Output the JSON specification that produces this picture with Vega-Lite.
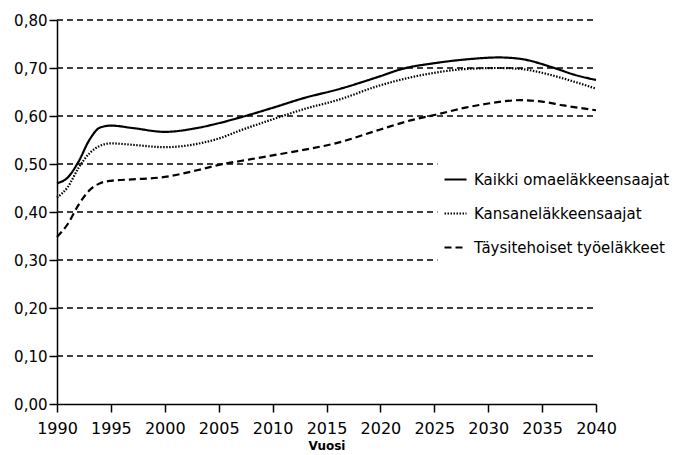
{
  "$schema": "https://vega.github.io/schema/vega-lite/v6.json",
  "width": 539,
  "height": 384,
  "autosize": "none",
  "padding": {"left": 57, "top": 20, "right": 85, "bottom": 51},
  "background": "white",
  "config": {"view": {"stroke": null}, "font": "DejaVu Sans"},
  "datasets": {
    "grid": [
      {"value": 0.1, "year": 1990, "year2": 2040},
      {"value": 0.2, "year": 1990, "year2": 2040},
      {"value": 0.3, "year": 1990, "year2": 2025.3},
      {"value": 0.4, "year": 1990, "year2": 2025.3},
      {"value": 0.5, "year": 1990, "year2": 2025.3},
      {"value": 0.6, "year": 1990, "year2": 2040},
      {"value": 0.7, "year": 1990, "year2": 2040},
      {"value": 0.8, "year": 1990, "year2": 2040}
    ],
    "series": [
      {"series": "Kaikki omaeläkkeensaajat", "year": 1990, "value": 0.460},
      {"series": "Kaikki omaeläkkeensaajat", "year": 1991, "value": 0.472},
      {"series": "Kaikki omaeläkkeensaajat", "year": 1992, "value": 0.505},
      {"series": "Kaikki omaeläkkeensaajat", "year": 1993, "value": 0.550},
      {"series": "Kaikki omaeläkkeensaajat", "year": 1994, "value": 0.576},
      {"series": "Kaikki omaeläkkeensaajat", "year": 1995, "value": 0.580},
      {"series": "Kaikki omaeläkkeensaajat", "year": 1997, "value": 0.575},
      {"series": "Kaikki omaeläkkeensaajat", "year": 2000, "value": 0.567},
      {"series": "Kaikki omaeläkkeensaajat", "year": 2003, "value": 0.575},
      {"series": "Kaikki omaeläkkeensaajat", "year": 2005, "value": 0.585},
      {"series": "Kaikki omaeläkkeensaajat", "year": 2007, "value": 0.597},
      {"series": "Kaikki omaeläkkeensaajat", "year": 2010, "value": 0.617},
      {"series": "Kaikki omaeläkkeensaajat", "year": 2013, "value": 0.638},
      {"series": "Kaikki omaeläkkeensaajat", "year": 2016, "value": 0.655},
      {"series": "Kaikki omaeläkkeensaajat", "year": 2020, "value": 0.683},
      {"series": "Kaikki omaeläkkeensaajat", "year": 2022, "value": 0.698},
      {"series": "Kaikki omaeläkkeensaajat", "year": 2025, "value": 0.710},
      {"series": "Kaikki omaeläkkeensaajat", "year": 2028, "value": 0.718},
      {"series": "Kaikki omaeläkkeensaajat", "year": 2031, "value": 0.722},
      {"series": "Kaikki omaeläkkeensaajat", "year": 2033, "value": 0.719},
      {"series": "Kaikki omaeläkkeensaajat", "year": 2036, "value": 0.701},
      {"series": "Kaikki omaeläkkeensaajat", "year": 2038, "value": 0.686},
      {"series": "Kaikki omaeläkkeensaajat", "year": 2040, "value": 0.675},
      {"series": "Kansaneläkkeensaajat", "year": 1990, "value": 0.430},
      {"series": "Kansaneläkkeensaajat", "year": 1991, "value": 0.452},
      {"series": "Kansaneläkkeensaajat", "year": 1992, "value": 0.492},
      {"series": "Kansaneläkkeensaajat", "year": 1993, "value": 0.522},
      {"series": "Kansaneläkkeensaajat", "year": 1994, "value": 0.538},
      {"series": "Kansaneläkkeensaajat", "year": 1995, "value": 0.543},
      {"series": "Kansaneläkkeensaajat", "year": 1997, "value": 0.540},
      {"series": "Kansaneläkkeensaajat", "year": 2000, "value": 0.535},
      {"series": "Kansaneläkkeensaajat", "year": 2003, "value": 0.542},
      {"series": "Kansaneläkkeensaajat", "year": 2005, "value": 0.553},
      {"series": "Kansaneläkkeensaajat", "year": 2007, "value": 0.570},
      {"series": "Kansaneläkkeensaajat", "year": 2010, "value": 0.593},
      {"series": "Kansaneläkkeensaajat", "year": 2013, "value": 0.615},
      {"series": "Kansaneläkkeensaajat", "year": 2016, "value": 0.633},
      {"series": "Kansaneläkkeensaajat", "year": 2020, "value": 0.664},
      {"series": "Kansaneläkkeensaajat", "year": 2025, "value": 0.690},
      {"series": "Kansaneläkkeensaajat", "year": 2028, "value": 0.698},
      {"series": "Kansaneläkkeensaajat", "year": 2031, "value": 0.700},
      {"series": "Kansaneläkkeensaajat", "year": 2033, "value": 0.698},
      {"series": "Kansaneläkkeensaajat", "year": 2035, "value": 0.690},
      {"series": "Kansaneläkkeensaajat", "year": 2037, "value": 0.678},
      {"series": "Kansaneläkkeensaajat", "year": 2040, "value": 0.657},
      {"series": "Täysitehoiset työeläkkeet", "year": 1990, "value": 0.348},
      {"series": "Täysitehoiset työeläkkeet", "year": 1991, "value": 0.375},
      {"series": "Täysitehoiset työeläkkeet", "year": 1992, "value": 0.415},
      {"series": "Täysitehoiset työeläkkeet", "year": 1993, "value": 0.445},
      {"series": "Täysitehoiset työeläkkeet", "year": 1994, "value": 0.460},
      {"series": "Täysitehoiset työeläkkeet", "year": 1995, "value": 0.465},
      {"series": "Täysitehoiset työeläkkeet", "year": 1997, "value": 0.468},
      {"series": "Täysitehoiset työeläkkeet", "year": 2000, "value": 0.473},
      {"series": "Täysitehoiset työeläkkeet", "year": 2003, "value": 0.487},
      {"series": "Täysitehoiset työeläkkeet", "year": 2005, "value": 0.498},
      {"series": "Täysitehoiset työeläkkeet", "year": 2008, "value": 0.510},
      {"series": "Täysitehoiset työeläkkeet", "year": 2010, "value": 0.518},
      {"series": "Täysitehoiset työeläkkeet", "year": 2013, "value": 0.530},
      {"series": "Täysitehoiset työeläkkeet", "year": 2016, "value": 0.544},
      {"series": "Täysitehoiset työeläkkeet", "year": 2020, "value": 0.572},
      {"series": "Täysitehoiset työeläkkeet", "year": 2023, "value": 0.592},
      {"series": "Täysitehoiset työeläkkeet", "year": 2025, "value": 0.602},
      {"series": "Täysitehoiset työeläkkeet", "year": 2028, "value": 0.618},
      {"series": "Täysitehoiset työeläkkeet", "year": 2030, "value": 0.626},
      {"series": "Täysitehoiset työeläkkeet", "year": 2033, "value": 0.633},
      {"series": "Täysitehoiset työeläkkeet", "year": 2035, "value": 0.630},
      {"series": "Täysitehoiset työeläkkeet", "year": 2037, "value": 0.622},
      {"series": "Täysitehoiset työeläkkeet", "year": 2040, "value": 0.612}
    ]
  },
  "encoding": {
    "x": {
      "field": "year",
      "type": "quantitative",
      "scale": {"domain": [1990, 2040], "nice": false, "zero": false},
      "axis": {
        "values": [1990, 1995, 2000, 2005, 2010, 2015, 2020, 2025, 2030, 2035, 2040],
        "format": "d",
        "grid": false,
        "labelOverlap": false,
        "labelFlush": false,
        "domainColor": "black",
        "domainWidth": 1.5,
        "tickColor": "black",
        "tickWidth": 1.5,
        "tickSize": 8,
        "labelColor": "black",
        "labelFontSize": 16,
        "labelPadding": 8,
        "title": "Vuosi",
        "titleFontSize": 12,
        "titleFontWeight": "bold",
        "titleColor": "black",
        "titlePadding": 4
      }
    },
    "y": {
      "field": "value",
      "type": "quantitative",
      "scale": {"domain": [0, 0.8], "nice": false},
      "axis": {
        "values": [0, 0.1, 0.2, 0.3, 0.4, 0.5, 0.6, 0.7, 0.8],
        "labelExpr": "replace(format(datum.value, '.2f'), '.', ',')",
        "grid": false,
        "labelOverlap": false,
        "labelFlush": false,
        "domainColor": "black",
        "domainWidth": 1.5,
        "tickColor": "black",
        "tickWidth": 1.5,
        "tickSize": 8,
        "labelColor": "black",
        "labelFontSize": 15,
        "labelPadding": 2,
        "title": null
      }
    }
  },
  "layer": [
    {
      "data": {"name": "grid"},
      "mark": {"type": "rule", "color": "black", "strokeWidth": 1.5, "strokeDash": [6, 4]},
      "encoding": {"x2": {"field": "year2"}}
    },
    {
      "data": {"name": "series"},
      "mark": {"type": "line", "interpolate": "monotone", "color": "black", "strokeWidth": 2.2},
      "encoding": {
        "strokeDash": {
          "field": "series",
          "type": "nominal",
          "scale": {
            "domain": ["Kaikki omaeläkkeensaajat", "Kansaneläkkeensaajat", "Täysitehoiset työeläkkeet"],
            "range": [[1, 0], [1.5, 1.5], [7, 4]]
          },
          "legend": {
            "orient": "none",
            "legendX": 386,
            "legendY": 147,
            "title": null,
            "symbolType": "stroke",
            "symbolSize": 484,
            "symbolStrokeWidth": 2.2,
            "symbolStrokeColor": "black",
            "labelFontSize": 15,
            "labelColor": "black",
            "labelOffset": 6,
            "rowPadding": 13,
            "labelLimit": 300
          }
        }
      }
    }
  ]
}
